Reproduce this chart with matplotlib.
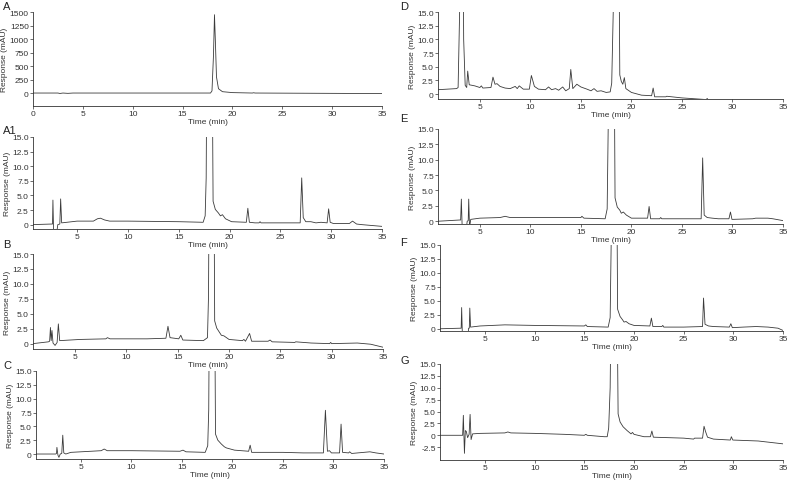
import matplotlib
matplotlib.use("Agg")
import matplotlib.pyplot as plt

plt.rcParams['font.family'] = ['Liberation Sans', 'DejaVu Sans']
plt.rcParams['font.size'] = 6

# chromatogram traces: (time min, response)
trace_a = [(0, 0), (2.5, 0), (2.7, -8), (3.0, 0), (3.5, -6), (4, 0), (17.8, 0), (17.95, 40),
           (18.1, 700), (18.2, 1450), (18.3, 900), (18.4, 300), (18.6, 80), (19, 25), (20, 8),
           (22, 0), (22.1, 5), (22.3, 0), (35, -10)]

trace_a1 = [(0.6, 0), (2.5, 0.1), (2.58, 0.1), (2.62, 4.2), (2.7, -2), (2.95, -2), (3.1, 0),
            (3.3, 0.1), (3.38, 4.4), (3.48, 0.3), (4.0, 0.4), (5.0, 0.6), (6.6, 0.6), (7.0, 1.0),
            (7.3, 1.1), (7.7, 0.8), (8.2, 0.6), (10, 0.6), (15, 0.5), (17.4, 0.4), (17.6, 1.5),
            (17.7, 8), (17.8, 40), (18.25, 40), (18.38, 4.0), (18.6, 2.6), (18.9, 2.0), (19.1, 1.5),
            (19.3, 1.7), (19.6, 1.0), (20.2, 0.5), (21.65, 0.4), (21.8, 2.8), (21.95, 0.4),
            (22.5, 0.3), (22.9, 0.3), (23.0, 0.5), (23.1, 0.3), (25, 0.3), (26.95, 0.3),
            (27.1, 8.0), (27.25, 1.2), (27.5, 0.5), (28, 0.5), (28.5, 0.3), (29, 0.4),
            (29.6, 0.3), (29.75, 2.7), (29.9, 0.4), (30.2, 0.2), (31.8, 0.2), (32.1, 0.6),
            (32.5, 0.1), (33, 0.0), (35, -0.3)]

trace_b = [(0.9, 0), (2.4, 0.3), (2.52, 0.4), (2.6, 2.7), (2.67, 0.5), (2.75, 2.2), (2.85, 0.1),
           (3.05, -0.3), (3.25, 0.2), (3.37, 3.3), (3.5, 0.5), (4.5, 0.6), (5.5, 0.7), (8, 0.8),
           (8.15, 1.0), (8.4, 0.8), (12, 0.8), (13.85, 0.9), (14.05, 2.9), (14.25, 1.0),
           (15.1, 0.8), (15.3, 1.4), (15.5, 0.6), (17.5, 0.5), (17.9, 1.0), (18.0, 8),
           (18.1, 40), (18.5, 40), (18.6, 3.8), (18.8, 2.6), (19.1, 1.8), (19.25, 1.4),
           (19.5, 1.3), (20, 0.7), (21.3, 0.5), (21.45, 0.7), (21.6, 0.4), (22.0, 1.7),
           (22.2, 0.4), (23.8, 0.4), (24.0, 0.6), (24.2, 0.3), (26.4, 0.2), (26.5, 0.3),
           (28, 0.1), (29.8, 0.0), (29.9, 0.2), (30, 0.0), (32.5, 0.1), (33.8, -0.1), (35, -0.6)]

trace_c = [(0.55, 0), (2.5, 0.0), (2.58, 0.1), (2.62, 1.2), (2.72, -0.2), (2.82, -0.6),
           (2.95, 0.0), (3.1, 0.1), (3.2, 3.4), (3.3, 0.2), (3.5, 0.0), (4, 0.3), (5, 0.4),
           (7.0, 0.6), (7.3, 0.9), (7.6, 0.6), (10, 0.6), (14.8, 0.5), (15.1, 0.7), (15.4, 0.4),
           (17.3, 0.3), (17.55, 1.5), (17.65, 8), (17.75, 40), (18.2, 40), (18.32, 3.6),
           (18.55, 2.5), (18.9, 1.8), (19.2, 1.3), (19.4, 1.1), (20, 0.8), (20.2, 0.7),
           (21.6, 0.5), (21.75, 1.6), (21.9, 0.3), (25, 0.3), (27, 0.2), (29.0, 0.2),
           (29.2, 7.9), (29.4, 0.5), (29.6, 0.6), (29.8, 0.2), (30.6, 0.2), (30.75, 5.4),
           (30.9, 0.3), (31.5, 0.2), (31.6, 0.4), (31.8, 0.1), (33, 0.3), (33.6, 0.4),
           (34.2, 0.2), (35, 0.0)]

trace_d = [(0.86, 0.8), (2.7, 1.0), (2.85, 1.2), (3.0, 15), (3.1, 40), (3.3, 40), (3.4, 10),
           (3.55, 1.6), (3.7, 1.2), (3.8, 4.2), (3.95, 1.7), (4.5, 1.5), (5.0, 1.2), (5.15, 1.5),
           (5.3, 1.1), (6.1, 1.2), (6.3, 3.1), (6.5, 1.8), (6.7, 1.9), (7.0, 1.4), (7.5, 1.1),
           (8.0, 1.0), (8.5, 1.4), (8.7, 1.0), (8.9, 1.5), (9.3, 0.9), (9.9, 0.9), (10.1, 3.4),
           (10.4, 1.4), (10.8, 0.9), (11.5, 0.8), (11.8, 1.3), (12.1, 0.8), (12.5, 1.0),
           (12.8, 0.7), (13.2, 1.3), (13.5, 0.6), (13.85, 1.0), (14.0, 4.5), (14.2, 1.0),
           (14.6, 1.8), (15.0, 1.3), (15.6, 0.9), (16.0, 0.6), (16.3, 1.0), (16.6, 0.5),
           (17.0, 0.6), (17.5, 0.3), (17.9, 0.4), (18.05, 2), (18.2, 15), (18.3, 40),
           (18.72, 40), (18.85, 3.5), (19.0, 2.3), (19.15, 1.8), (19.3, 3.0), (19.45, 1.0),
           (20, 0.3), (21, -0.2), (22.0, -0.3), (22.15, 1.1), (22.3, -0.5), (23.4, -0.5),
           (23.5, -0.4), (25, -0.7), (27.4, -1.0), (27.5, -0.8), (27.6, -1.1), (29.5, -1.6),
           (35, -3)]

trace_e = [(0.86, 0), (3.0, 0.2), (3.1, 0.2), (3.17, 3.6), (3.27, -2), (3.6, -2), (3.75, 0),
           (3.85, 0.1), (3.9, 3.6), (3.98, -1), (4.1, 0.3), (5, 0.5), (7.0, 0.6), (7.5, 0.8),
           (8.0, 0.6), (12, 0.6), (15, 0.6), (15.1, 0.8), (15.3, 0.5), (17.4, 0.4), (17.6, 2),
           (17.7, 15), (17.8, 40), (18.25, 40), (18.38, 3.8), (18.6, 2.3), (18.85, 1.8),
           (19.0, 1.3), (19.2, 1.5), (19.5, 1.0), (20, 0.5), (21.6, 0.5), (21.75, 2.4), (21.9, 0.4),
           (22.8, 0.4), (22.9, 0.6), (23.0, 0.4), (25, 0.4), (26.9, 0.4), (27.05, 10.3),
           (27.2, 1.0), (27.5, 0.6), (28, 0.5), (28.6, 0.4), (29.65, 0.4), (29.8, 1.5),
           (29.95, 0.3), (32, 0.4), (32.3, 0.5), (33.5, 0.5), (34, 0.4), (35, 0.1)]

trace_f = [(0.47, 0), (2.5, 0.1), (2.6, 0.1), (2.65, 3.8), (2.72, -1), (3.3, -1), (3.35, 0.1),
           (3.42, 0.1), (3.47, 3.7), (3.55, 0.3), (4.5, 0.5), (7, 0.7), (10, 0.6), (15.0, 0.5),
           (15.15, 0.7), (15.3, 0.4), (17.4, 0.3), (17.6, 2), (17.7, 15), (17.8, 40),
           (18.22, 40), (18.35, 3.5), (18.6, 2.2), (18.85, 1.6), (19.0, 1.2), (19.2, 1.3),
           (19.5, 0.9), (20, 0.6), (21.6, 0.5), (21.75, 1.9), (21.9, 0.4), (22.8, 0.4), (22.9, 0.6),
           (23, 0.3), (25, 0.3), (26.9, 0.4), (27.0, 5.5), (27.15, 0.8), (27.5, 0.5), (28, 0.4),
           (29.6, 0.3), (29.75, 0.9), (29.9, 0.2), (31, 0.3), (32.3, 0.4), (33.5, 0.3),
           (34.5, 0.1), (35, -0.3)]

trace_g = [(0.47, 0), (2.75, 0), (2.82, 4.2), (2.93, -3.8), (3.02, 1.0), (3.12, 0.8),
           (3.25, -0.5), (3.4, 0.2), (3.5, 4.4), (3.6, -0.9), (3.75, 0.3), (4.5, 0.4),
           (7.0, 0.5), (7.3, 0.7), (7.6, 0.5), (10, 0.4), (13, 0.2), (15.0, 0.0), (15.15, 0.2),
           (15.3, 0.0), (17.0, -0.3), (17.3, -0.3), (17.45, 1.5), (17.6, 10), (17.75, 40),
           (18.25, 40), (18.4, 4.5), (18.6, 2.8), (18.9, 1.8), (19.3, 1.0), (19.7, 0.3),
           (19.85, 0.6), (20.0, 0.2), (21.0, -0.3), (21.65, -0.3), (21.8, 0.9), (21.95, -0.4),
           (25, -0.6), (26.0, -0.8), (26.1, -0.6), (26.9, -0.6), (27.05, 1.9), (27.2, 0.8),
           (27.4, -0.4), (28, -0.8), (29.7, -1.0), (29.8, -0.3), (29.95, -1.0), (32.5, -1.2),
           (35, -1.8)]

ticks_a = [0, 250, 500, 750, 1000, 1250, 1500]
ticks_15 = [0, 2.5, 5.0, 7.5, 10.0, 12.5, 15.0]
ticks_g = [-2.5, 0, 2.5, 5.0, 7.5, 10.0, 12.5, 15.0]

W, H = 789, 481
fig = plt.figure(figsize=(W / 100, H / 100), dpi=100)

# letter, trace, (left, top, right, bottom) px, xlim start, ylim, yticks, letter position px
panels = [
    ("A", trace_a, (33, 13, 382, 107), 0, (-240, 1500), ticks_a, (3, 7)),
    ("A1", trace_a1, (33, 138, 382, 230), 0.66, (-0.75, 15), ticks_15, (3, 131)),
    ("B", trace_b, (33, 255, 383, 350), 0.9, (-0.9, 15), ticks_15, (3, 245)),
    ("C", trace_c, (36, 372, 384, 460), 0.55, (-0.9, 15), ticks_15, (3, 366)),
    ("D", trace_d, (438, 13, 783, 100), 0.86, (-0.9, 15), ticks_15, (400, 7)),
    ("E", trace_e, (438, 130, 783, 225), 0.86, (-0.45, 15), ticks_15, (400, 119)),
    ("F", trace_f, (440, 246, 783, 332), 0.47, (-0.4, 15), ticks_15, (400, 243)),
    ("G", trace_g, (440, 365, 783, 461), 0.47, (-5.2, 15), ticks_g, (400, 361)),
]

for letter, trace, (l, t, r, b), x0, ylim, yt, (lx, ly) in panels:
    ax = fig.add_axes([l / W, 1 - b / H, (r - l) / W, (b - t) / H])
    xs = [p[0] for p in trace]
    ys = [p[1] for p in trace]
    ax.plot(xs, ys, color='#3a3a3a', lw=0.6)
    ax.set_xlim(x0, 35)
    ax.set_ylim(*ylim)
    if letter == "A":
        ax.set_xticks(range(0, 36, 5))
        ax.set_yticks(yt)
        ax.set_yticklabels([str(v) for v in yt])
    else:
        ax.set_xticks(range(5, 36, 5))
        ax.set_yticks(yt)
        ax.set_yticklabels(["0" if v == 0 else f"{v:.1f}" for v in yt])
    for s in ['top', 'right']:
        ax.spines[s].set_visible(False)
    for s in ['left', 'bottom']:
        ax.spines[s].set_linewidth(0.6)
        ax.spines[s].set_color('#333333')
    ax.tick_params(length=2, width=0.5, pad=1, labelsize=6, colors='#333333')
    ax.set_xlabel("Time (min)", fontsize=6, labelpad=0.5, color='#333333')
    ax.set_ylabel("Response (mAU)", fontsize=6, labelpad=1, color='#333333')
    fig.text(lx / W, 1 - ly / H, letter, fontsize=8, va='center', ha='left', color='#222222')

fig.savefig("out.png", dpi=100)
